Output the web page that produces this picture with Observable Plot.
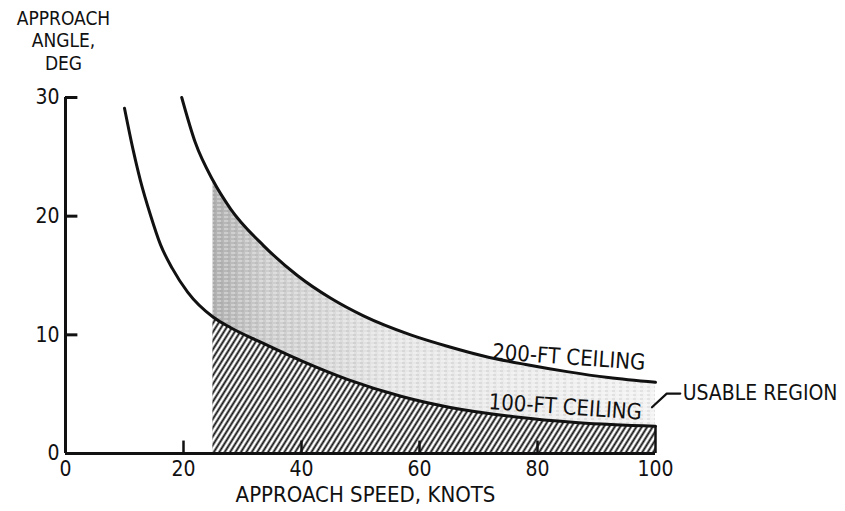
<!DOCTYPE html>
<html>
<head>
<meta charset="utf-8">
<script src="https://cdn.jsdelivr.net/npm/d3@7"></script>
<script src="https://cdn.jsdelivr.net/npm/@observablehq/plot@0.6"></script>
<style>
  html, body { margin: 0; padding: 0; background: #fff; }
  #chart { width: 845px; height: 511px; }
</style>
</head>
<body>
<div id="chart"></div>
<script>
// Curve: 100-ft ceiling (approach speed, knots -> approach angle, deg)
const speed100 = [10.0, 11.5, 12.7, 14.4, 16.1, 18.1, 20.7, 25, 28, 33, 40, 48, 57, 65, 76, 87, 100];
const angle100 = [29.1, 25.5, 23.0, 20.1, 17.6, 15.6, 13.6, 11.5, 10.6, 9.4, 7.8, 6.2, 4.8, 3.9, 3.1, 2.6, 2.3];
// Curve: 200-ft ceiling
const speed200 = [19.7, 22, 25, 28, 33.6, 39.3, 44.9, 50.5, 58.5, 65, 71, 78, 85, 92, 100];
const angle200 = [30, 26.2, 23.0, 20.6, 17.5, 15.0, 13.1, 11.6, 10.0, 9.0, 8.2, 7.5, 6.9, 6.4, 6.0];
// Minimum usable speed (left edge of shaded regions)
const minSpeed = 25;
// Axis ticks
const xTicks = [0, 20, 40, 60, 80, 100];
const yTicks = [10, 20, 30];
const xTickMarks = [20, 40, 60, 80];
// Annotations
const labels = [
  {text: "200-FT CEILING", x: 85.3, y: 8.1},
  {text: "100-FT CEILING", x: 84.7, y: 3.9}
];
const regionLabel = {text: "USABLE REGION", x: 104.6, y: 5.05};
const leader = [{x: 99.4, y: 3.9}, {x: 101.9, y: 5.05}, {x: 104.2, y: 5.05}];
const yTitle = "APPROACH\nANGLE,\nDEG";
const xTitle = "APPROACH SPEED, KNOTS";

const c100 = speed100.map((x, i) => ({x, y: angle100[i]}));
const c200 = speed200.map((x, i) => ({x, y: angle200[i]}));
const usable100 = c100.filter(d => d.x >= minSpeed);
const usable200 = c200.filter(d => d.x >= minSpeed);

const FONT = '"Liberation Sans Narrow", "DejaVu Sans Condensed", "Liberation Sans", sans-serif';
const ink = "#111";

const plot = Plot.plot({
  width: 845,
  height: 511,
  marginLeft: 65,
  marginRight: 190,
  marginTop: 97,
  marginBottom: 58,
  style: {fontFamily: FONT, fontSize: "21px", color: ink, background: "#fff", overflow: "visible"},
  x: {domain: [0, 100], ticks: xTicks, tickSize: 0, tickPadding: 8, label: null},
  y: {domain: [0, 30], ticks: [0, ...yTicks], tickSize: 0, tickPadding: 6, label: null},
  marks: [
    // stippled usable band (between the curves, above the hatch)
    Plot.areaY(usable200, {x: "x", y: "y", fill: "url(#stipple)", curve: "monotone-x"}),
    Plot.areaY(usable200, {x: "x", y: "y", fill: "url(#grain)", curve: "monotone-x"}),
    // hatched region below 100-ft ceiling
    Plot.areaY(usable100, {x: "x", y: "y", fill: "url(#hatch)", curve: "monotone-x"}),
    Plot.ruleX([100], {y1: 0, y2: angle100[angle100.length - 1], stroke: ink, strokeWidth: 2.5}),
    // curves
    Plot.line(c100, {x: "x", y: "y", stroke: ink, strokeWidth: 3, curve: "monotone-x"}),
    Plot.line(c200, {x: "x", y: "y", stroke: ink, strokeWidth: 3, curve: "monotone-x"}),
    // axes lines
    Plot.ruleX([0], {y1: 0, y2: 30, stroke: ink, strokeWidth: 3}),
    Plot.ruleY([0], {x1: 0, x2: 100, stroke: ink, strokeWidth: 3}),
    // inward ticks
    Plot.ruleY(yTicks, {x1: 0, x2: 2.1, stroke: ink, strokeWidth: 3}),
    Plot.ruleX(xTickMarks, {y1: 0, y2: 1.05, stroke: ink, strokeWidth: 2.5}),
    // curve labels
    Plot.text(labels, {x: "x", y: "y", text: "text", rotate: 4, fontSize: 22, fill: ink}),
    Plot.text([regionLabel], {x: "x", y: "y", text: "text", textAnchor: "start", fontSize: 21, fill: ink}),
    Plot.line(leader, {x: "x", y: "y", stroke: ink, strokeWidth: 2.2}),
    // axis titles
    Plot.text([yTitle], {frameAnchor: "top-left", textAnchor: "middle", lineAnchor: "top", lineHeight: 1.2, dx: -2, dy: -89, fontSize: 19, fill: ink}),
    Plot.text([xTitle], {frameAnchor: "bottom", dx: 5, dy: 48, fontSize: 22, fill: ink})
  ]
});

// pattern / gradient definitions used by the fills above
const svg = d3.select(plot);
const defs = svg.insert("defs", ":first-child");
const hatch = defs.append("pattern")
  .attr("id", "hatch").attr("patternUnits", "userSpaceOnUse")
  .attr("width", 4.6).attr("height", 10)
  .attr("patternTransform", "rotate(32)");
hatch.append("rect").attr("width", 4.6).attr("height", 10).attr("fill", "#fff");
hatch.append("line").attr("x1", 2.3).attr("x2", 2.3).attr("y1", 0).attr("y2", 10)
  .attr("stroke", ink).attr("stroke-width", 1.9);

const grad = defs.append("linearGradient").attr("id", "stipple")
  .attr("x1", "0").attr("x2", "1").attr("y1", "0").attr("y2", "0");
grad.append("stop").attr("offset", "0").attr("stop-color", "#b0b0b0");
grad.append("stop").attr("offset", "0.12").attr("stop-color", "#cdcdcd");
grad.append("stop").attr("offset", "0.4").attr("stop-color", "#e6e6e6");
grad.append("stop").attr("offset", "1").attr("stop-color", "#f3f3f3");

const grain = defs.append("pattern")
  .attr("id", "grain").attr("patternUnits", "userSpaceOnUse")
  .attr("width", 7).attr("height", 4);
grain.append("line").attr("x1", 0).attr("x2", 4).attr("y1", 1).attr("y2", 1)
  .attr("stroke", "#fff").attr("stroke-width", 1).attr("stroke-opacity", 0.6);
grain.append("line").attr("x1", 3).attr("x2", 6).attr("y1", 3).attr("y2", 3)
  .attr("stroke", "#777").attr("stroke-width", 0.8).attr("stroke-opacity", 0.35);

svg.selectAll("g[aria-label='x-axis tick label'] text, g[aria-label='y-axis tick label'] text").attr("fill", ink);
document.getElementById("chart").appendChild(plot);
</script>
</body>
</html>
